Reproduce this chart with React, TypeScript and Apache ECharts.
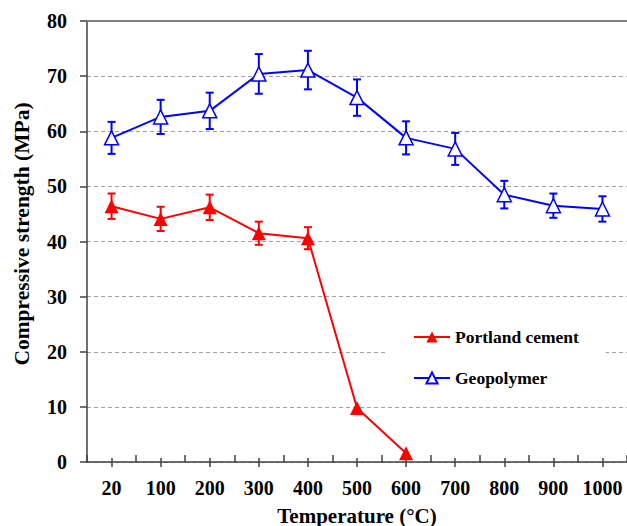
import React, { useEffect, useRef } from "react";
import * as echarts from "echarts";

const categories = ["20", "100", "200", "300", "400", "500", "600", "700", "800", "900", "1000"];
const geopolymer = [58.8, 62.6, 63.7, 70.4, 71.1, 66.1, 58.8, 56.8, 48.5, 46.5, 45.9];
const geopolymerErr = [2.9, 3.1, 3.3, 3.6, 3.5, 3.3, 3.0, 2.9, 2.5, 2.2, 2.3];
const portland = [46.4, 44.1, 46.2, 41.5, 40.6, 9.8, 1.6, null, null, null, null];
const portlandErr = [2.3, 2.2, 2.3, 2.1, 2.0, 0, 0, 0, 0, 0, 0];
const yTicks = { min: 0, max: 80, interval: 10 };

const FONT = "Liberation Serif";
const AXIS = "#404040";

function errData(vals: (number | null)[], errs: number[]) {
  const out: number[][] = [];
  vals.forEach((v, i) => {
    if (v != null && errs[i] > 0) out.push([i, v - errs[i], v + errs[i]]);
  });
  return out;
}

function errSeries(data: number[][], color: string) {
  return {
    type: "custom",
    xAxisIndex: 0,
    z: 1,
    silent: true,
    encode: { x: 0, y: [1, 2] },
    data,
    renderItem: (params: any, api: any) => {
      const lo = api.coord([api.value(0), api.value(1)]);
      const hi = api.coord([api.value(0), api.value(2)]);
      const w = 4;
      const style = { stroke: color, lineWidth: 2 };
      return {
        type: "group",
        children: [
          { type: "line", shape: { x1: lo[0], y1: lo[1], x2: hi[0], y2: hi[1] }, style },
          { type: "line", shape: { x1: lo[0] - w, y1: lo[1], x2: lo[0] + w, y2: lo[1] }, style },
          { type: "line", shape: { x1: hi[0] - w, y1: hi[1], x2: hi[0] + w, y2: hi[1] }, style },
        ],
      };
    },
  };
}

export default function App() {
  const ref = useRef<HTMLDivElement>(null);
  useEffect(() => {
    document.body.style.margin = "0";
    const chart = echarts.init(ref.current!, undefined, { renderer: "svg" });
    const baseX = {
      type: "category",
      data: categories,
      position: "bottom",
    };
    chart.setOption({
      animation: false,
      backgroundColor: "#fff",
      textStyle: { fontFamily: FONT },
      grid: { left: 87, top: 21, right: 0, bottom: 64, containLabel: false, outerBoundsMode: "none" },
      legend: {
        orient: "vertical",
        left: 388,
        top: 316,
        backgroundColor: "#fff",
        padding: [12, 27, 12, 25],
        itemWidth: 36,
        itemHeight: 14,
        itemGap: 23,
        textStyle: { fontFamily: FONT, fontWeight: "bold", fontSize: 17.5, color: "#000" },
        data: ["Portland cement", "Geopolymer"],
      },
      xAxis: [
        {
          ...baseX,
          name: "Temperature (°C)",
          nameLocation: "middle",
          nameGap: 43,
          nameTextStyle: { fontFamily: FONT, fontWeight: "bold", fontSize: 21, color: "#000" },
          axisLine: { show: true, lineStyle: { color: AXIS, width: 1.5 } },
          axisTick: { show: true, alignWithLabel: true, interval: 0, length: 5, lineStyle: { color: AXIS, width: 1.5 } },
          axisLabel: { interval: 0, margin: 16, fontFamily: FONT, fontWeight: "bold", fontSize: 20, color: "#000" },
          splitLine: { show: false },
        },
        {
          ...baseX,
          axisLine: { show: false },
          axisTick: { show: true, inside: true, interval: 0, length: 7, lineStyle: { color: AXIS, width: 1.5 } },
          axisLabel: { show: false },
          splitLine: { show: false },
        },
        {
          ...baseX,
          axisLine: { show: false },
          axisTick: { show: true, inside: true, alignWithLabel: true, interval: 0, length: 4, lineStyle: { color: AXIS, width: 1.5 } },
          axisLabel: { show: false },
          splitLine: { show: false },
        },
      ],
      yAxis: {
        type: "value",
        min: yTicks.min,
        max: yTicks.max,
        interval: yTicks.interval,
        axisLine: { show: true, lineStyle: { color: AXIS, width: 1.5 } },
        axisTick: { show: true, length: 7, lineStyle: { color: AXIS, width: 1.5 } },
        axisLabel: { margin: 20, fontFamily: FONT, fontWeight: "bold", fontSize: 20, color: "#000" },
        splitLine: { show: true, lineStyle: { color: "#a0a0a0", type: [4, 3], width: 1 } },
      },
      graphic: [
        {
          type: "text",
          x: 22,
          y: 234,
          rotation: Math.PI / 2,
          style: {
            text: "Compressive strength (MPa)",
            font: `bold 21.5px "${FONT}"`,
            fill: "#000",
            align: "center",
            verticalAlign: "middle",
          },
        },
      ],
      series: [
        errSeries(errData(portland, portlandErr), "#ff0000"),
        errSeries(errData(geopolymer, geopolymerErr), "#0000ff"),
        {
          name: "Portland cement",
          type: "line",
          xAxisIndex: 0,
          z: 3,
          data: portland,
          symbol: "triangle",
          symbolSize: 14,
          lineStyle: { color: "#ff0000", width: 2 },
          itemStyle: { color: "#ff0000" },
          markLine: {
            silent: true,
            symbol: "none",
            label: { show: false },
            lineStyle: { color: "#808080", type: "solid", width: 2 },
            data: [{ yAxis: yTicks.max }],
          },
        },
        {
          name: "Geopolymer",
          type: "line",
          xAxisIndex: 0,
          z: 3,
          data: geopolymer,
          symbol: "triangle",
          symbolSize: 14,
          lineStyle: { color: "#0000ff", width: 2 },
          itemStyle: { color: "#ffffff", borderColor: "#0000ff", borderWidth: 1.5 },
        },
      ],
    });
    return () => chart.dispose();
  }, []);
  return <div ref={ref} style={{ width: 627, height: 526 }} />;
}
